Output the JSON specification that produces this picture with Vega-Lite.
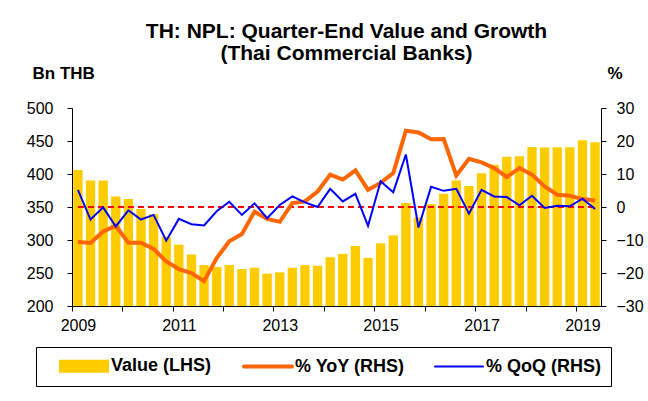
{
  "$schema": "https://vega.github.io/schema/vega-lite/v6.json",
  "autosize": "none",
  "width": 529,
  "height": 198,
  "padding": {"left": 72, "top": 108, "right": 47, "bottom": 95},
  "background": "white",
  "config": {
    "font": "Liberation Sans",
    "view": {"stroke": null},
    "axis": {"domainColor": "black", "tickColor": "black", "labelColor": "black", "titleColor": "black", "grid": false, "tickSize": 5, "labelFontSize": 16, "labelFont": "Liberation Sans", "titleFont": "Liberation Sans"}
  },
  "title": {
    "text": ["TH: NPL: Quarter-End Value and Growth", "(Thai Commercial Banks)"],
    "fontSize": 21, "font": "Liberation Sans", "fontWeight": "bold", "color": "black",
    "frame": "group", "anchor": "middle", "offset": 0, "dx": 10, "lineHeight": 22
  },
  "data": {"values": [
    {"q": "2009Q1", "value": 406, "yoy": -10.6, "qoq": 5.2},
    {"q": "2009Q2", "value": 390, "yoy": -10.9, "qoq": -3.8},
    {"q": "2009Q3", "value": 390, "yoy": -7.4, "qoq": -0.1},
    {"q": "2009Q4", "value": 366, "yoy": -5.7, "qoq": -5.9},
    {"q": "2010Q1", "value": 362, "yoy": -10.8, "qoq": -1.0},
    {"q": "2010Q2", "value": 347, "yoy": -10.8, "qoq": -3.8},
    {"q": "2010Q3", "value": 339, "yoy": -12.7, "qoq": -2.4},
    {"q": "2010Q4", "value": 305, "yoy": -16.5, "qoq": -10.2},
    {"q": "2011Q1", "value": 293, "yoy": -18.8, "qoq": -3.6},
    {"q": "2011Q2", "value": 278, "yoy": -20.0, "qoq": -5.2},
    {"q": "2011Q3", "value": 262, "yoy": -22.5, "qoq": -5.6},
    {"q": "2011Q4", "value": 259, "yoy": -15.5, "qoq": -1.3},
    {"q": "2012Q1", "value": 262, "yoy": -10.4, "qoq": 1.6},
    {"q": "2012Q2", "value": 256, "yoy": -8.2, "qoq": -2.4},
    {"q": "2012Q3", "value": 258, "yoy": -1.4, "qoq": 1.1},
    {"q": "2012Q4", "value": 249, "yoy": -3.6, "qoq": -3.4},
    {"q": "2013Q1", "value": 251, "yoy": -4.5, "qoq": 0.6},
    {"q": "2013Q2", "value": 258, "yoy": 1.2, "qoq": 3.2},
    {"q": "2013Q3", "value": 262, "yoy": 1.7, "qoq": 1.4},
    {"q": "2013Q4", "value": 261, "yoy": 4.7, "qoq": 0.0},
    {"q": "2014Q1", "value": 274, "yoy": 9.8, "qoq": 5.5},
    {"q": "2014Q2", "value": 279, "yoy": 8.3, "qoq": 1.7},
    {"q": "2014Q3", "value": 291, "yoy": 11.1, "qoq": 4.0},
    {"q": "2014Q4", "value": 273, "yoy": 5.2, "qoq": -5.7},
    {"q": "2015Q1", "value": 295, "yoy": 7.3, "qoq": 7.8},
    {"q": "2015Q2", "value": 307, "yoy": 10.3, "qoq": 4.5},
    {"q": "2015Q3", "value": 356, "yoy": 23.1, "qoq": 15.9},
    {"q": "2015Q4", "value": 334, "yoy": 22.6, "qoq": -6.2},
    {"q": "2016Q1", "value": 354, "yoy": 20.5, "qoq": 6.1},
    {"q": "2016Q2", "value": 370, "yoy": 20.6, "qoq": 4.9},
    {"q": "2016Q3", "value": 390, "yoy": 9.5, "qoq": 5.5},
    {"q": "2016Q4", "value": 382, "yoy": 14.6, "qoq": -2.0},
    {"q": "2017Q1", "value": 401, "yoy": 13.5, "qoq": 5.2},
    {"q": "2017Q2", "value": 414, "yoy": 11.8, "qoq": 3.2},
    {"q": "2017Q3", "value": 426, "yoy": 9.1, "qoq": 3.0},
    {"q": "2017Q4", "value": 427, "yoy": 11.8, "qoq": 0.5},
    {"q": "2018Q1", "value": 441, "yoy": 9.8, "qoq": 3.4},
    {"q": "2018Q2", "value": 440, "yoy": 6.2, "qoq": -0.3},
    {"q": "2018Q3", "value": 440.5, "yoy": 3.7, "qoq": 0.4},
    {"q": "2018Q4", "value": 440.5, "yoy": 3.4, "qoq": 0.2},
    {"q": "2019Q1", "value": 451, "yoy": 2.4, "qoq": 2.5},
    {"q": "2019Q2", "value": 448, "yoy": 2.0, "qoq": -0.6}
  ]},
  "encoding": {
    "x": {
      "field": "q", "type": "ordinal", "sort": null,
      "scale": {"paddingInner": 0.26, "paddingOuter": 0.1},
      "axis": {
        "title": null, "labelAngle": 0,
        "values": ["2009Q1","2010Q1","2011Q1","2012Q1","2013Q1","2014Q1","2015Q1","2016Q1","2017Q1","2018Q1","2019Q1"],
        "labelExpr": "toNumber(substring(datum.value,0,4)) % 2 == 1 ? substring(datum.value,0,4) : ''",
        "tickOffset": -6.3, "labelOffset": 6.3, "labelPadding": 6, "labelFontSize": 16
      }
    }
  },
  "layer": [
    {
      "mark": {"type": "bar"},
      "encoding": {
        "y": {"field": "value", "type": "quantitative",
          "scale": {"domain": [200, 500], "nice": false, "zero": false},
          "axis": {"orient": "left", "values": [200,250,300,350,400,450,500], "labelPadding": 14,
            "title": "Bn THB", "titleAngle": 0, "titleAlign": "left", "titleBaseline": "alphabetic",
            "titleX": -40, "titleY": -30, "titleFontSize": 17, "titleFontWeight": "bold"}},
        "y2": {"datum": 200},
        "color": {"datum": "value", "type": "nominal",
          "scale": {"domain": ["value", "yoy", "qoq"], "range": ["#FFCC00", "#FF6600", "#0000FF"]},
          "legend": {
            "orient": "none", "legendX": -36, "legendY": 239, "direction": "horizontal", "columns": 3,
            "title": " ", "titleOrient": "left", "titlePadding": 8, "titleFontSize": 18,
            "strokeColor": "black", "padding": 10, "columnPadding": 24,
            "labelFontSize": 18, "labelFontWeight": "bold", "labelColor": "black", "labelOffset": 18,
            "symbolSize": 2304, "symbolOffset": 21,
            "labelExpr": "datum.value == 'value' ? 'Value (LHS)' : datum.value == 'yoy' ? '% YoY (RHS)' : '% QoQ (RHS)'",
            "encode": {"symbols": {"update": {
              "shape": {"signal": "datum.value == 'value' ? 'M-1,-0.23H1V0.23H-1Z' : 'M-1,0H1'"},
              "fill": {"signal": "datum.value == 'value' ? '#FFCC00' : 'transparent'"},
              "stroke": {"signal": "datum.value == 'yoy' ? '#FF6600' : datum.value == 'qoq' ? '#0000FF' : 'transparent'"},
              "strokeWidth": {"signal": "datum.value == 'yoy' ? 4 : 2"},
              "strokeCap": {"value": "round"},
              "size": {"value": 2304},
              "opacity": {"value": 1}
            }}}
          }
        }
      }
    },
    {
      "layer": [
        {
          "mark": {"type": "line", "color": "#FF0000", "strokeWidth": 2, "strokeDash": [6, 4]},
          "encoding": {
            "y": {"datum": 0, "type": "quantitative",
              "scale": {"domain": [-30, 30], "nice": false},
              "axis": {"orient": "right", "values": [-30,-20,-10,0,10,20,30], "labelPadding": 10,
                "title": "%", "titleAngle": 0, "titleAlign": "left", "titleBaseline": "alphabetic",
                "titleX": 6, "titleY": -30, "titleFontSize": 17, "titleFontWeight": "bold"}}
          }
        },
        {
          "mark": {"type": "line", "strokeWidth": 4},
          "encoding": {
            "y": {"field": "yoy", "type": "quantitative",
              "axis": {"orient": "right", "values": [-30,-20,-10,0,10,20,30], "labelPadding": 10,
                "title": "%", "titleAngle": 0, "titleAlign": "left", "titleBaseline": "alphabetic",
                "titleX": 6, "titleY": -30, "titleFontSize": 17, "titleFontWeight": "bold"}},
            "color": {"datum": "yoy", "type": "nominal"}
          }
        },
        {
          "mark": {"type": "line", "strokeWidth": 2},
          "encoding": {
            "y": {"field": "qoq", "type": "quantitative",
              "axis": {"orient": "right", "values": [-30,-20,-10,0,10,20,30], "labelPadding": 10,
                "title": "%", "titleAngle": 0, "titleAlign": "left", "titleBaseline": "alphabetic",
                "titleX": 6, "titleY": -30, "titleFontSize": 17, "titleFontWeight": "bold"}},
            "color": {"datum": "qoq", "type": "nominal"}
          }
        }
      ]
    }
  ],
  "resolve": {"scale": {"y": "independent"}}
}
